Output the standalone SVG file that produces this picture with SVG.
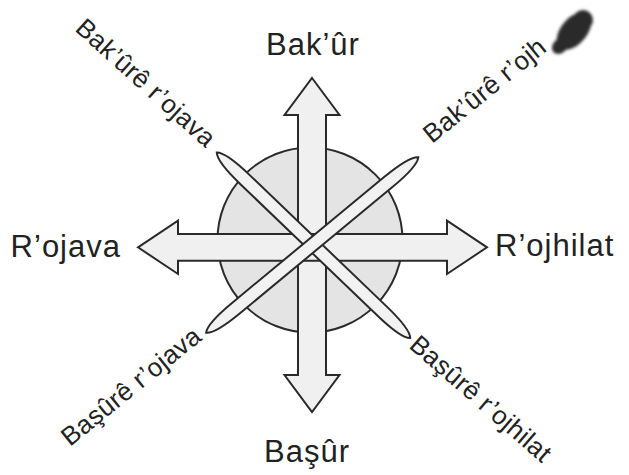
<svg xmlns="http://www.w3.org/2000/svg" width="629" height="475" viewBox="0 0 629 475">
<defs>
<style>
.shape{stroke:#2a2a2a;stroke-width:2;stroke-linejoin:miter}
.arrow{fill:#f0f0f0}
.lens{fill:#f2f2f2}
.main{font-family:"Liberation Sans",Arial,sans-serif;font-size:31px;fill:#222;letter-spacing:1px}
.diag{font-family:"Liberation Sans",Arial,sans-serif;font-size:26px;fill:#222;letter-spacing:0.3px}
</style>
<filter id="blur" x="-50%" y="-50%" width="200%" height="200%"><feGaussianBlur stdDeviation="1.8"/></filter>
</defs>
<rect width="629" height="475" fill="#ffffff"/>
<g id="circle">
<circle class="shape" cx="310" cy="240" r="92.5" fill="#e4e4e4"/>
</g>
<g id="connectors">
<path id="arrow-ns" class="shape arrow" d="M312,78 L339.5,115 L326,115 L326,375 L339.5,375 L312,412 L284.5,375 L298,375 L298,115 L284.5,115 Z"/>
<path id="arrow-ew" class="shape arrow" d="M138,247.3 L178,220.7 L178,234 L447,234 L447,220.7 L487,247.3 L447,274 L447,260.7 L178,260.7 L178,274 Z"/>
<path id="lens-nwse" class="shape lens" d="M-134,0 C-130,-4 -118,-6.5 -95,-6.5 L95,-6.5 C118,-6.5 130,-4 134,0 C130,4 118,6.5 95,6.5 L-95,6.5 C-118,6.5 -130,4 -134,0 Z" transform="translate(313.5,245.3) rotate(43.8)"/>
<path id="lens-nesw" class="shape lens" d="M-137.7,0 C-133.7,-4 -121.7,-6.5 -98.7,-6.5 L98.7,-6.5 C121.7,-6.5 133.7,-4 137.7,0 C133.7,4 121.7,6.5 98.7,6.5 L-98.7,6.5 C-121.7,6.5 -133.7,4 -137.7,0 Z" transform="translate(312.2,245) rotate(-39.6)"/>
</g>
<g id="north"><text class="main" x="313" y="55" text-anchor="middle">Bak’ûr</text></g>
<g id="south"><text class="main" x="307" y="462" text-anchor="middle">Başûr</text></g>
<g id="west"><text class="main" x="121" y="257" text-anchor="end">R’ojava</text></g>
<g id="east"><text class="main" x="495" y="256">R’ojhilat</text></g>
<g id="northwest"><text class="diag" transform="translate(74,30) rotate(42)">Bak’ûrê r’ojava</text></g>
<g id="northeast">
<text class="diag" transform="translate(432,144) rotate(-39)">Bak’ûrê r’ojh</text>
<g filter="url(#blur)" fill="#2b2b2b">
<ellipse cx="574" cy="31" rx="22" ry="13" transform="rotate(-50 574 31)"/>
<ellipse cx="583" cy="20" rx="10" ry="10"/>
<ellipse cx="560" cy="46" rx="9" ry="7" transform="rotate(-45 560 46)"/>
</g>
</g>
<g id="southwest"><text class="diag" transform="translate(70,447) rotate(-39)">Başûrê r’ojava</text></g>
<g id="southeast"><text class="diag" transform="translate(408,347) rotate(41)">Başûrê r’ojhilat</text></g>
</svg>
